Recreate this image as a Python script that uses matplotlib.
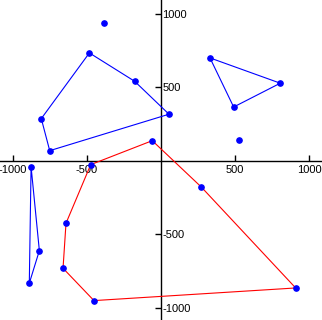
import matplotlib
matplotlib.use("Agg")
import matplotlib.pyplot as plt

# blue shapes
quad_x = [-484, -178, 54, -752, -809]
quad_y = [735, 542, 318, 70, 288]
tri1_x = [331, 806, 491]
tri1_y = [701, 529, 367]
tri2_x = [-878, -822, -890]
tri2_y = [-39, -610, -832]
# loose points
pts_x = [-385, 527]
pts_y = [941, 143]
# red polygon
red_x = [-475, -59, 272, 910, -453, -662, -642]
red_y = [-25, 138, -177, -864, -950, -730, -424]

ticks = [-1000, -500, 500, 1000]

plt.rcParams['font.family'] = ['Liberation Sans', 'DejaVu Sans']
fig = plt.figure(figsize=(3.22, 3.20), dpi=100)
ax = fig.add_axes([0, 0, 1, 1])

def closed(xs, ys):
    return xs + xs[:1], ys + ys[:1]

for xs, ys in [(quad_x, quad_y), (tri1_x, tri1_y), (tri2_x, tri2_y)]:
    cx, cy = closed(xs, ys)
    ax.plot(cx, cy, color='#0000ff', lw=0.8, zorder=2)
    ax.plot(xs, ys, 'o', color='#0000ff', ms=3.8, zorder=4)

cx, cy = closed(red_x, red_y)
ax.plot(cx, cy, color='#ff0000', lw=0.8, zorder=2)
ax.plot(red_x, red_y, 'o', color='#0000ff', ms=3.8, zorder=4)
ax.plot(pts_x, pts_y, 'o', color='#0000ff', ms=3.8, zorder=4)

ax.set_xlim(-1088, 1088)
ax.set_ylim(-1082, 1095)

ax.spines['left'].set_visible(False)
ax.spines['top'].set_visible(False)
ax.spines['bottom'].set_position(('data', 0))
ax.spines['right'].set_position(('data', 0))
for s in ('bottom', 'right'):
    ax.spines[s].set_linewidth(1.0)
    ax.spines[s].set_zorder(1)

ax.xaxis.set_ticks_position('bottom')
ax.yaxis.set_ticks_position('right')
ax.set_xticks(ticks)
ax.set_yticks(ticks)
ax.set_xticklabels([str(t) for t in ticks])
ax.set_yticklabels([str(t) for t in ticks])
ax.tick_params(axis='x', direction='in', length=4, width=1, pad=3, labelsize=8)
ax.tick_params(axis='y', direction='in', length=4, width=1, pad=1, labelsize=8)

fig.savefig('out.png', dpi=100)
